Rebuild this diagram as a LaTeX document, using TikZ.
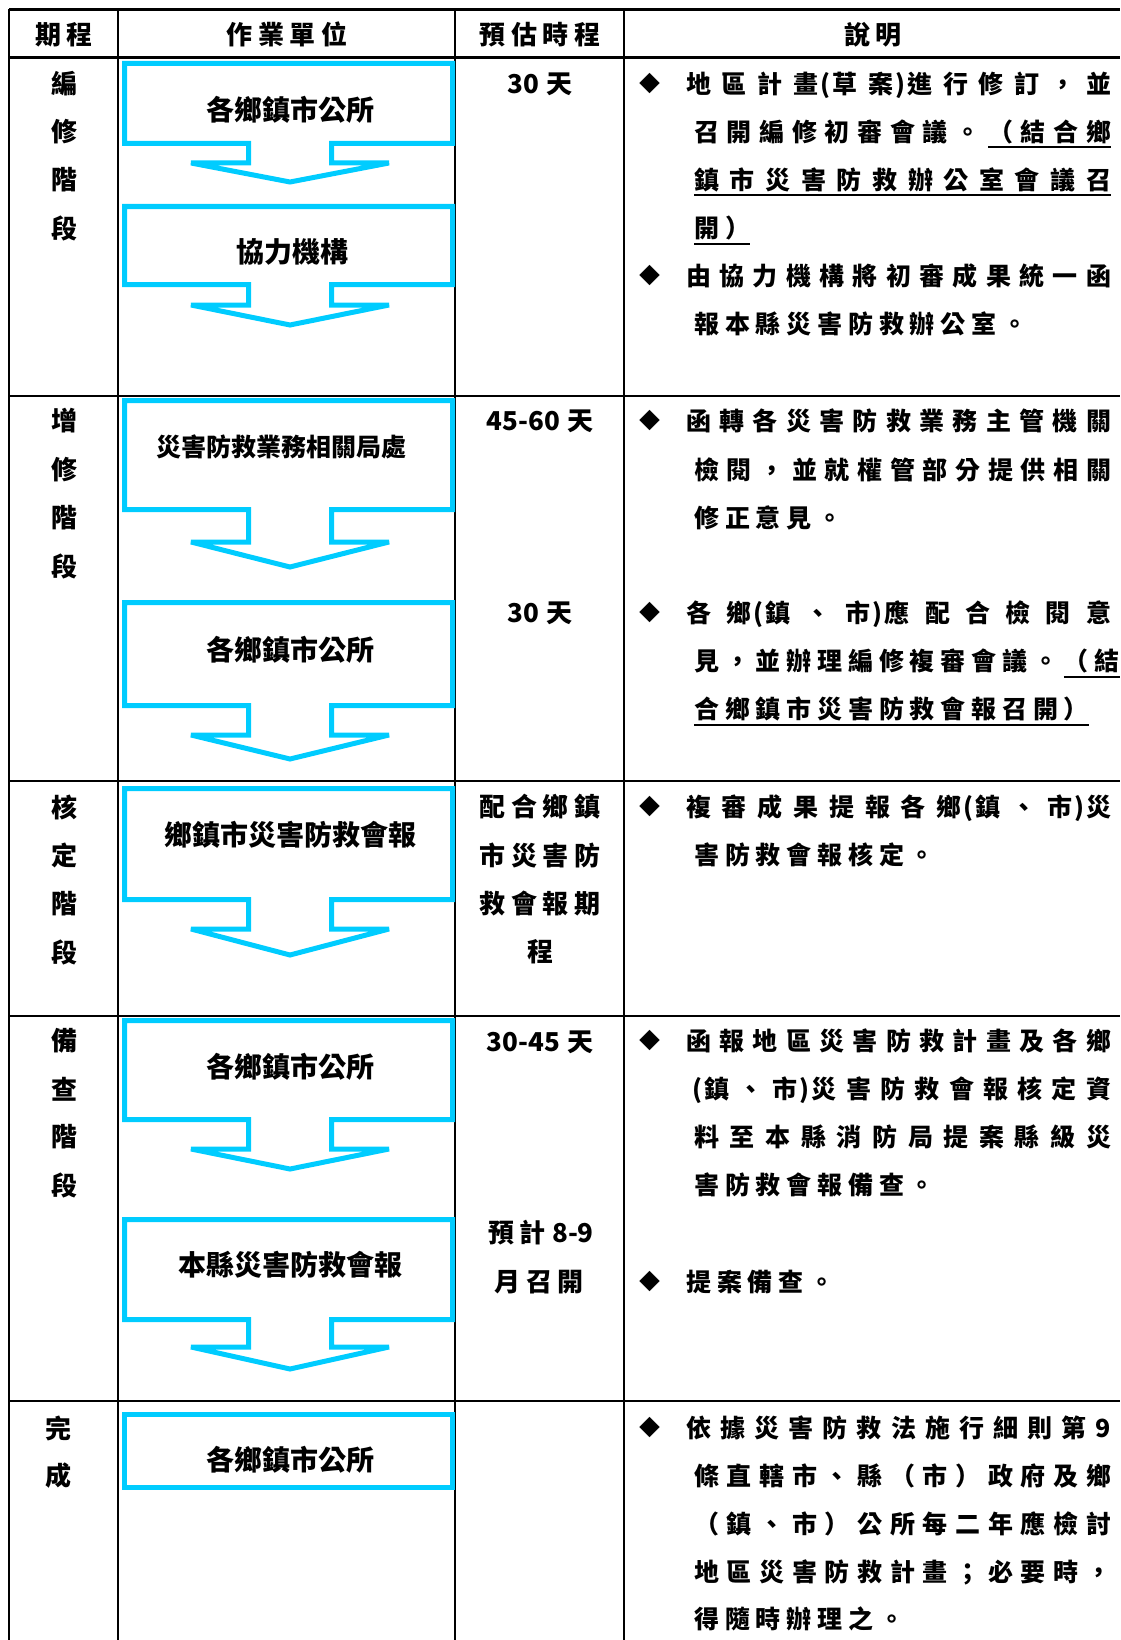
\documentclass[tikz,border=0pt]{standalone}
\usepackage{fontspec}
\setmainfont{Noto Sans CJK TC}
\usetikzlibrary{positioning}
\usepackage{xcolor}
\definecolor{flowcyan}{RGB}{0, 204, 255}
\definecolor{gridblack}{RGB}{0, 0, 0}

% spaced CJK lines, \ulon switches underlining on
\newdimen\chargap \chargap=5.8pt
\newif\iffirstchar
\newif\ifulmode
\newif\ifulpending
\newif\iftightgap
\def\ulon{ulon-marker}
\def\spreadend{spread-end}
\def\ulchar#1{\setbox0=\hbox{#1}\rlap{\vrule height -5pt depth 7pt width \wd0}\box0}
\def\spreaditem#1{%
  \ifx#1\ulon
    \ulmodetrue\ulpendingtrue
  \else
    \iffirstchar\firstcharfalse
    \else
      \ifx#1(\tightgaptrue\fi
      \ifx#1)\tightgaptrue\fi
      \iftightgap\hskip 2pt\relax
      \else
        \ifulmode
          \ifulpending\hskip\chargap plus 1fil\relax
          \else\leaders\vrule height -5pt depth 7pt\hskip\chargap plus 1fil\relax\fi
        \else\hskip\chargap plus 1fil\relax\fi
      \fi
    \fi
    \tightgapfalse
    \ifx#1(\tightgaptrue\fi
    \ifx#1)\tightgaptrue\fi
    \ulpendingfalse
    \ifulmode\ulchar{#1}\else#1\fi
  \fi}
\def\spreadstep#1{\ifx#1\spreadend\else\spreaditem{#1}\expandafter\spreadstep\fi}
\newcommand\cjkline[1]{\firstchartrue\ulmodefalse\ulpendingfalse\tightgapfalse\spreadstep#1\spreadend}

\tikzset{
    flow box/.style={
        draw=flowcyan,
        line width=5pt,
        line join=miter,
        miter limit=4
    },
    box text/.style={
        inner sep=0pt,
        font=\fontsize{28}{28}\selectfont\bfseries
    },
    grid line/.style={
        draw=gridblack,
        line width=2.2pt
    },
    grid rule/.style={
        draw=gridblack,
        line width=1.6pt
    },
    desc line/.style={
        anchor=west,
        inner sep=0pt,
        text height=22pt,
        text depth=3pt,
        font=\fontsize{25}{25}\selectfont\bfseries
    },
    bullet mark/.style={
        inner sep=0pt,
        font=\fontsize{21}{21}\selectfont
    }
}

\newcommand\flowshape[4]{%
  \draw[flow box] (124.5,#1) -- (452.5,#1) -- (452.5,#2) -- (331.5,#2) -- (331.5,#3)
    -- (389,#3) -- (290,#4) -- (191,#3) -- (248.5,#3) -- (248.5,#2) -- (124.5,#2) -- cycle;}

\begin{document}
\begin{tikzpicture}[
    x=1pt, y=-1pt,
    head text/.style={inner sep=0pt, font=\fontsize{26}{26}\selectfont\bfseries},
    phase char/.style={inner sep=0pt, font=\fontsize{26}{26}\selectfont\bfseries},
    time text/.style={inner sep=0pt, font=\fontsize{26}{26}\selectfont\bfseries}
]
\useasboundingbox (0,0) rectangle (1120,1640);

% Table grid
\foreach \y in {9.5, 57.5, 396, 781, 1016, 1401} {
    \draw[grid line] (9,\y) -- (1120,\y);
}
\foreach \x in {9, 118, 455, 624} {
    \draw[grid rule] (\x,9.5) -- (\x,1640);
}

% Header
\node[head text] (h1) at (64,34.5) {\cjkline{期程}};
\node[head text] (h2) at (287,34.5) {\cjkline{作業單位}};
\node[head text] (h3) at (540,34.5) {\cjkline{預估時程}};
\node[head text] (h4) at (873,34.5) {\cjkline{說明}};

% === PHASES ===
\foreach \ch/\y in {編/84, 修/132, 階/180, 段/228} {
    \node[phase char] (pa\y) at (64,\y) {\ch};
}
\foreach \ch/\y in {增/421, 修/470, 階/518, 段/566} {
    \node[phase char] (pb\y) at (64,\y) {\ch};
}
\foreach \ch/\y in {核/807, 定/855, 階/904, 段/952} {
    \node[phase char] (pc\y) at (64,\y) {\ch};
}
\foreach \ch/\y in {備/1041, 查/1089, 階/1137, 段/1185} {
    \node[phase char] (pd\y) at (64,\y) {\ch};
}
\foreach \ch/\y in {完/1428, 成/1476} {
    \node[phase char] (pe\y) at (58,\y) {\ch};
}

% === UNITS ===
\flowshape{63.5}{143.5}{163}{182}
\node[box text] (u1) at (290,110) {各鄉鎮市公所};
\flowshape{206.5}{284.5}{305}{325}
\node[box text] (u2) at (292,252) {協力機構};

\flowshape{400.5}{509.5}{542}{567}
\node[box text, font=\fontsize{25}{25}\selectfont\bfseries] (u3) at (281,447) {災害防救業務相關局處};
\flowshape{602.5}{705.5}{735}{759}
\node[box text] (u4) at (290,650) {各鄉鎮市公所};

\flowshape{788.5}{899.5}{929}{955}
\node[box text] (u5) at (290,835) {鄉鎮市災害防救會報};

\flowshape{1020.5}{1119.5}{1149}{1169}
\node[box text] (u6) at (290,1067) {各鄉鎮市公所};
\flowshape{1219.5}{1319.5}{1347}{1369}
\node[box text] (u7) at (290,1265) {本縣災害防救會報};

\draw[flow box] (124.5,1414.5) rectangle (452.5,1487.5);
\node[box text] (u8) at (290,1460) {各鄉鎮市公所};

% === TIMES ===
\node[time text] (t1) at (540,84) {30\hspace{7pt}天};
\node[time text] (t2) at (540,421) {45-60\hspace{7pt}天};
\node[time text] (t3) at (540,613) {30\hspace{7pt}天};
\foreach \txt/\y in {配合鄉鎮/807, 市災害防/855, 救會報期/904, 程/952} {
    \node[time text] (tc\y) at (540,\y) {\expandafter\cjkline\expandafter{\txt}};
}
\node[time text] (t4) at (540,1042) {30-45\hspace{7pt}天};
\node[time text] (t5) at (541,1233) {預\hspace{5pt}計\hspace{7pt}8-9};
\node[time text] (t6) at (539,1282) {\cjkline{月召開}};

% === NOTES ===
\foreach \y in {84, 276, 421, 613, 807, 1041, 1282, 1428} {
    \node[bullet mark] (b\y) at (650,\y) {◆};
}

\node[desc line] (d1a) at (686,84) {\hbox to 425pt{\cjkline{地區計畫(草案)進行修訂，並}}};
\node[desc line] (d1b) at (694,132) {\hbox to 417pt{\cjkline{召開編修初審會議。\ulon （結合鄉}}};
\node[desc line] (d1c) at (694,180) {\hbox to 417pt{\cjkline{\ulon 鎮市災害防救辦公室會議召}}};
\node[desc line] (d1d) at (694,228) {\cjkline{\ulon 開）}};
\node[desc line] (d1e) at (686,276) {\hbox to 425pt{\cjkline{由協力機構將初審成果統一函}}};
\node[desc line] (d1f) at (694,324) {\cjkline{報本縣災害防救辦公室。}};

\node[desc line] (d2a) at (686,421) {\hbox to 425pt{\cjkline{函轉各災害防救業務主管機關}}};
\node[desc line] (d2b) at (694,470) {\hbox to 417pt{\cjkline{檢閱，並就權管部分提供相關}}};
\node[desc line] (d2c) at (694,518) {\cjkline{修正意見。}};
\node[desc line] (d2d) at (686,613) {\hbox to 425pt{\cjkline{各鄉(鎮、市)應配合檢閱意}}};
\node[desc line] (d2e) at (694,661) {\hbox to 417pt{\cjkline{見，並辦理編修複審會議。\ulon （結}}};
\node[desc line] (d2f) at (694,709) {\cjkline{\ulon 合鄉鎮市災害防救會報召開）}};

\node[desc line] (d3a) at (686,807) {\hbox to 425pt{\cjkline{複審成果提報各鄉(鎮、市)災}}};
\node[desc line] (d3b) at (694,855) {\cjkline{害防救會報核定。}};

\node[desc line] (d4a) at (686,1041) {\hbox to 425pt{\cjkline{函報地區災害防救計畫及各鄉}}};
\node[desc line] (d4b) at (692,1089) {\hbox to 419pt{\cjkline{(鎮、市)災害防救會報核定資}}};
\node[desc line] (d4c) at (694,1137) {\hbox to 417pt{\cjkline{料至本縣消防局提案縣級災}}};
\node[desc line] (d4d) at (694,1185) {\cjkline{害防救會報備查。}};
\node[desc line] (d4e) at (686,1282) {\cjkline{提案備查。}};

\node[desc line] (d5a) at (686,1428) {\hbox to 425pt{\cjkline{依據災害防救法施行細則第9}}};
\node[desc line] (d5b) at (694,1476) {\hbox to 417pt{\cjkline{條直轄市、縣（市）政府及鄉}}};
\node[desc line] (d5c) at (694,1524) {\hbox to 417pt{\cjkline{（鎮、市）公所每二年應檢討}}};
\node[desc line] (d5d) at (694,1572) {\hbox to 417pt{\cjkline{地區災害防救計畫；必要時，}}};
\node[desc line] (d5e) at (694,1619) {\cjkline{得隨時辦理之。}};

\end{tikzpicture}
\end{document}
